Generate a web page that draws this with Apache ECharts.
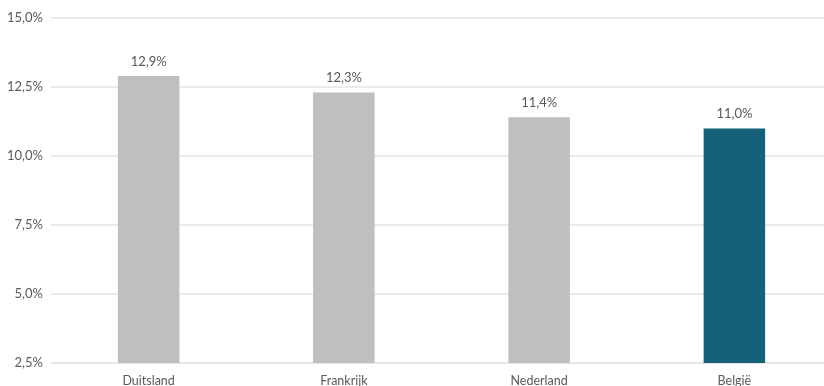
<!DOCTYPE html>
<html>
<head>
<meta charset="utf-8">
<script src="https://cdn.jsdelivr.net/npm/echarts@6/dist/echarts.min.js"></script>
<style>html,body{margin:0;padding:0;background:#fff;overflow:hidden}#c{width:824px;height:386px}</style>
</head>
<body>
<div id="c"></div>
<script>
const categories = ["Duitsland", "Frankrijk", "Nederland", "België"];
const values = [12.9, 12.3, 11.4, 11.0];
const barColors = ["#BFBFBF", "#BFBFBF", "#BFBFBF", "#16617A"];
const yTicks = [2.5, 5.0, 7.5, 10.0, 12.5, 15.0];

const fmt = v => v.toFixed(1).replace('.', ',') + '%';
const chart = echarts.init(document.getElementById('c'), null, {renderer: 'canvas'});
chart.setOption({
  animation: false,
  grid: {left: 51, right: -8, top: 18, bottom: 23, containLabel: false, outerBoundsMode: 'none'},
  xAxis: {
    type: 'category',
    data: categories,
    axisLine: {show: true, lineStyle: {color: '#E3E3E3', width: 1.5}},
    axisTick: {show: false},
    axisLabel: {color: '#595959', fontSize: 12.5, fontFamily: 'Lato', margin: 11}
  },
  yAxis: {
    type: 'value',
    min: yTicks[0],
    max: yTicks[yTicks.length - 1],
    interval: 2.5,
    axisLine: {show: false},
    axisTick: {show: false},
    splitLine: {lineStyle: {color: '#E3E3E3', width: 1.5}},
    axisLabel: {color: '#595959', fontSize: 13, fontFamily: 'Lato', margin: 8, formatter: fmt}
  },
  series: [{
    type: 'bar',
    barWidth: '31.5%',
    data: values.map((v, i) => ({value: v, itemStyle: {color: barColors[i]}})),
    label: {show: true, position: 'top', distance: 8, color: '#595959', fontSize: 13, fontFamily: 'Lato', formatter: p => fmt(p.value)}
  }]
});
</script>
</body>
</html>
